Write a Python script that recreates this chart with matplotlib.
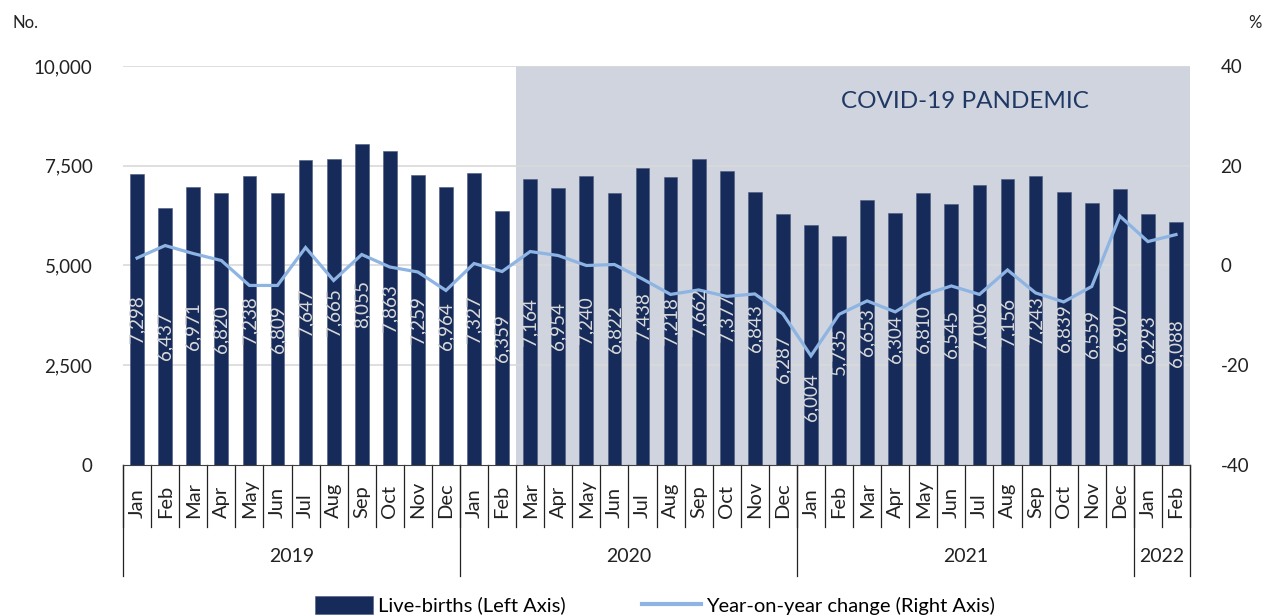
import matplotlib
matplotlib.use("Agg")
import matplotlib.pyplot as plt
from matplotlib.patches import Patch
from matplotlib.lines import Line2D
from matplotlib.ticker import FuncFormatter, FixedLocator
import matplotlib.transforms as mtransforms

plt.rcParams['font.family'] = ['Lato', 'DejaVu Sans']
plt.rcParams['axes.unicode_minus'] = False

months = ["Jan", "Feb", "Mar", "Apr", "May", "Jun", "Jul", "Aug", "Sep", "Oct", "Nov", "Dec",
          "Jan", "Feb", "Mar", "Apr", "May", "Jun", "Jul", "Aug", "Sep", "Oct", "Nov", "Dec",
          "Jan", "Feb", "Mar", "Apr", "May", "Jun", "Jul", "Aug", "Sep", "Oct", "Nov", "Dec",
          "Jan", "Feb"]
years = ["2019", "2020", "2021", "2022"]
months_per_year = [12, 12, 12, 2]

births = [7298, 6437, 6971, 6820, 7238, 6809, 7647, 7665, 8055, 7863, 7259, 6964,
          7327, 6359, 7164, 6954, 7240, 6822, 7438, 7218, 7662, 7377, 6843, 6287,
          6004, 5735, 6653, 6304, 6810, 6545, 7006, 7156, 7243, 6839, 6559, 6907,
          6293, 6088]
yoy = [1.5, 4.0, 2.4, 1.0, -4.0, -4.0, 3.6, -3.0, 2.2, -0.3, -1.3, -5.0,
       0.4, -1.2, 2.8, 2.0, 0.0, 0.2, -2.7, -5.8, -4.9, -6.2, -5.7, -9.7,
       -18.1, -9.8, -7.1, -9.3, -5.9, -4.1, -5.8, -0.9, -5.5, -7.3, -4.2, 9.9,
       4.8, 6.2]
# manual label nudges (in left-axis units) for labels moved off the line
label_nudge = {23: -480, 24: -1300}

pandemic_start = 14  # index of Mar 2020

NAVY = "#172B5A"
LINE = "#8DB4E2"
SHADE = "#CFD4DF"
GRID = "#D9D9D9"

fig = plt.figure(figsize=(12.71, 6.16), dpi=100)
ax = fig.add_axes([0.0968, 0.2451, 0.8395, 0.6478])
ax2 = ax.twinx()

n = len(births)
x = list(range(n))
ax.set_xlim(-0.5, n - 0.5)
ax.set_ylim(0, 10000)
ax2.set_ylim(-40, 40)

ax.axvspan(pandemic_start - 0.5, n - 0.5, color=SHADE, zorder=0, lw=0)
ax.yaxis.set_major_locator(FixedLocator([0, 2500, 5000, 7500, 10000]))
for yv in [2500, 5000, 7500, 10000]:
    ax.axhline(yv, color=GRID, lw=1.2, zorder=0.5)
ax.bar(x, births, width=0.49, color=NAVY, edgecolor="#4a5a7e", linewidth=0.4, zorder=2)

ax2.plot(x, yoy, color=LINE, lw=2.3, zorder=3, solid_joinstyle='miter')
ax2.set_yticks([-40, -20, 0, 20, 40])

for i, v in enumerate(births):
    yc = v / 2 + label_nudge.get(i, 0)
    ax2.text(i, yc, f"{v:,}", transform=ax.transData, rotation=90,
             ha='center', va='center', color="#D9D9D9", fontsize=13.5,
             zorder=5)

ax.yaxis.set_major_formatter(FuncFormatter(lambda v, p: f"{int(v):,}"))
for a in (ax, ax2):
    for s in ['top', 'left', 'right', 'bottom']:
        a.spines[s].set_visible(False)
    a.tick_params(axis='both', length=0, labelsize=13.5, colors="#222222")
ax.tick_params(axis='y', pad=22)
ax2.tick_params(axis='y', pad=22)
ax.set_xticks([])
ax2.set_xticks([])

# bottom axis line
ax.plot([-0.5, n - 0.5], [0, 0], color="#404040", lw=0.8, clip_on=False, zorder=4)

trans = mtransforms.blended_transform_factory(ax.transData, ax.transAxes)
month_sep_y = -0.155
year_sep_y = -0.278
for b in range(n + 1):
    ax.plot([b - 0.5, b - 0.5], [0, month_sep_y], color="#222222", lw=0.9,
            transform=trans, clip_on=False)
bounds = [0]
for cnt in months_per_year:
    bounds.append(bounds[-1] + cnt)
for b in bounds:
    ax.plot([b - 0.5, b - 0.5], [0, year_sep_y], color="#222222", lw=0.9,
            transform=trans, clip_on=False)
for i, m in enumerate(months):
    ax.text(i, -0.132, m, rotation=90, ha='center', va='bottom', transform=trans,
            fontsize=14.5, color="#222222")
for k, yname in enumerate(years):
    c = (bounds[k] + bounds[k + 1] - 1) / 2
    ax.text(c, -0.23, yname, ha='center', va='center', transform=trans,
            fontsize=14, color="#222222")

ax.text(29.5, 9120, "COVID-19 PANDEMIC",
        ha='center', va='center', fontsize=17.5, color="#1F3864", zorder=6)

fig.text(12 / 1271, 1 - 23 / 616, "No.", ha='left', va='center', fontsize=12, color="#222222")
fig.text(1262 / 1271, 1 - 23 / 616, "%", ha='right', va='center', fontsize=12, color="#222222")

handles = [Patch(facecolor=NAVY, edgecolor="#4a5a7e", lw=0.4),
           Line2D([0], [0], color=LINE, lw=3)]
fig.legend(handles, ["Live-births (Left Axis)", "Year-on-year change (Right Axis)"],
           loc='lower center', bbox_to_anchor=(0.515, -0.027), ncol=2, frameon=False,
           fontsize=14.5, handlelength=2.9, handleheight=1.0, columnspacing=3.8,
           handletextpad=0.25)

fig.savefig("out.png", dpi=100)
